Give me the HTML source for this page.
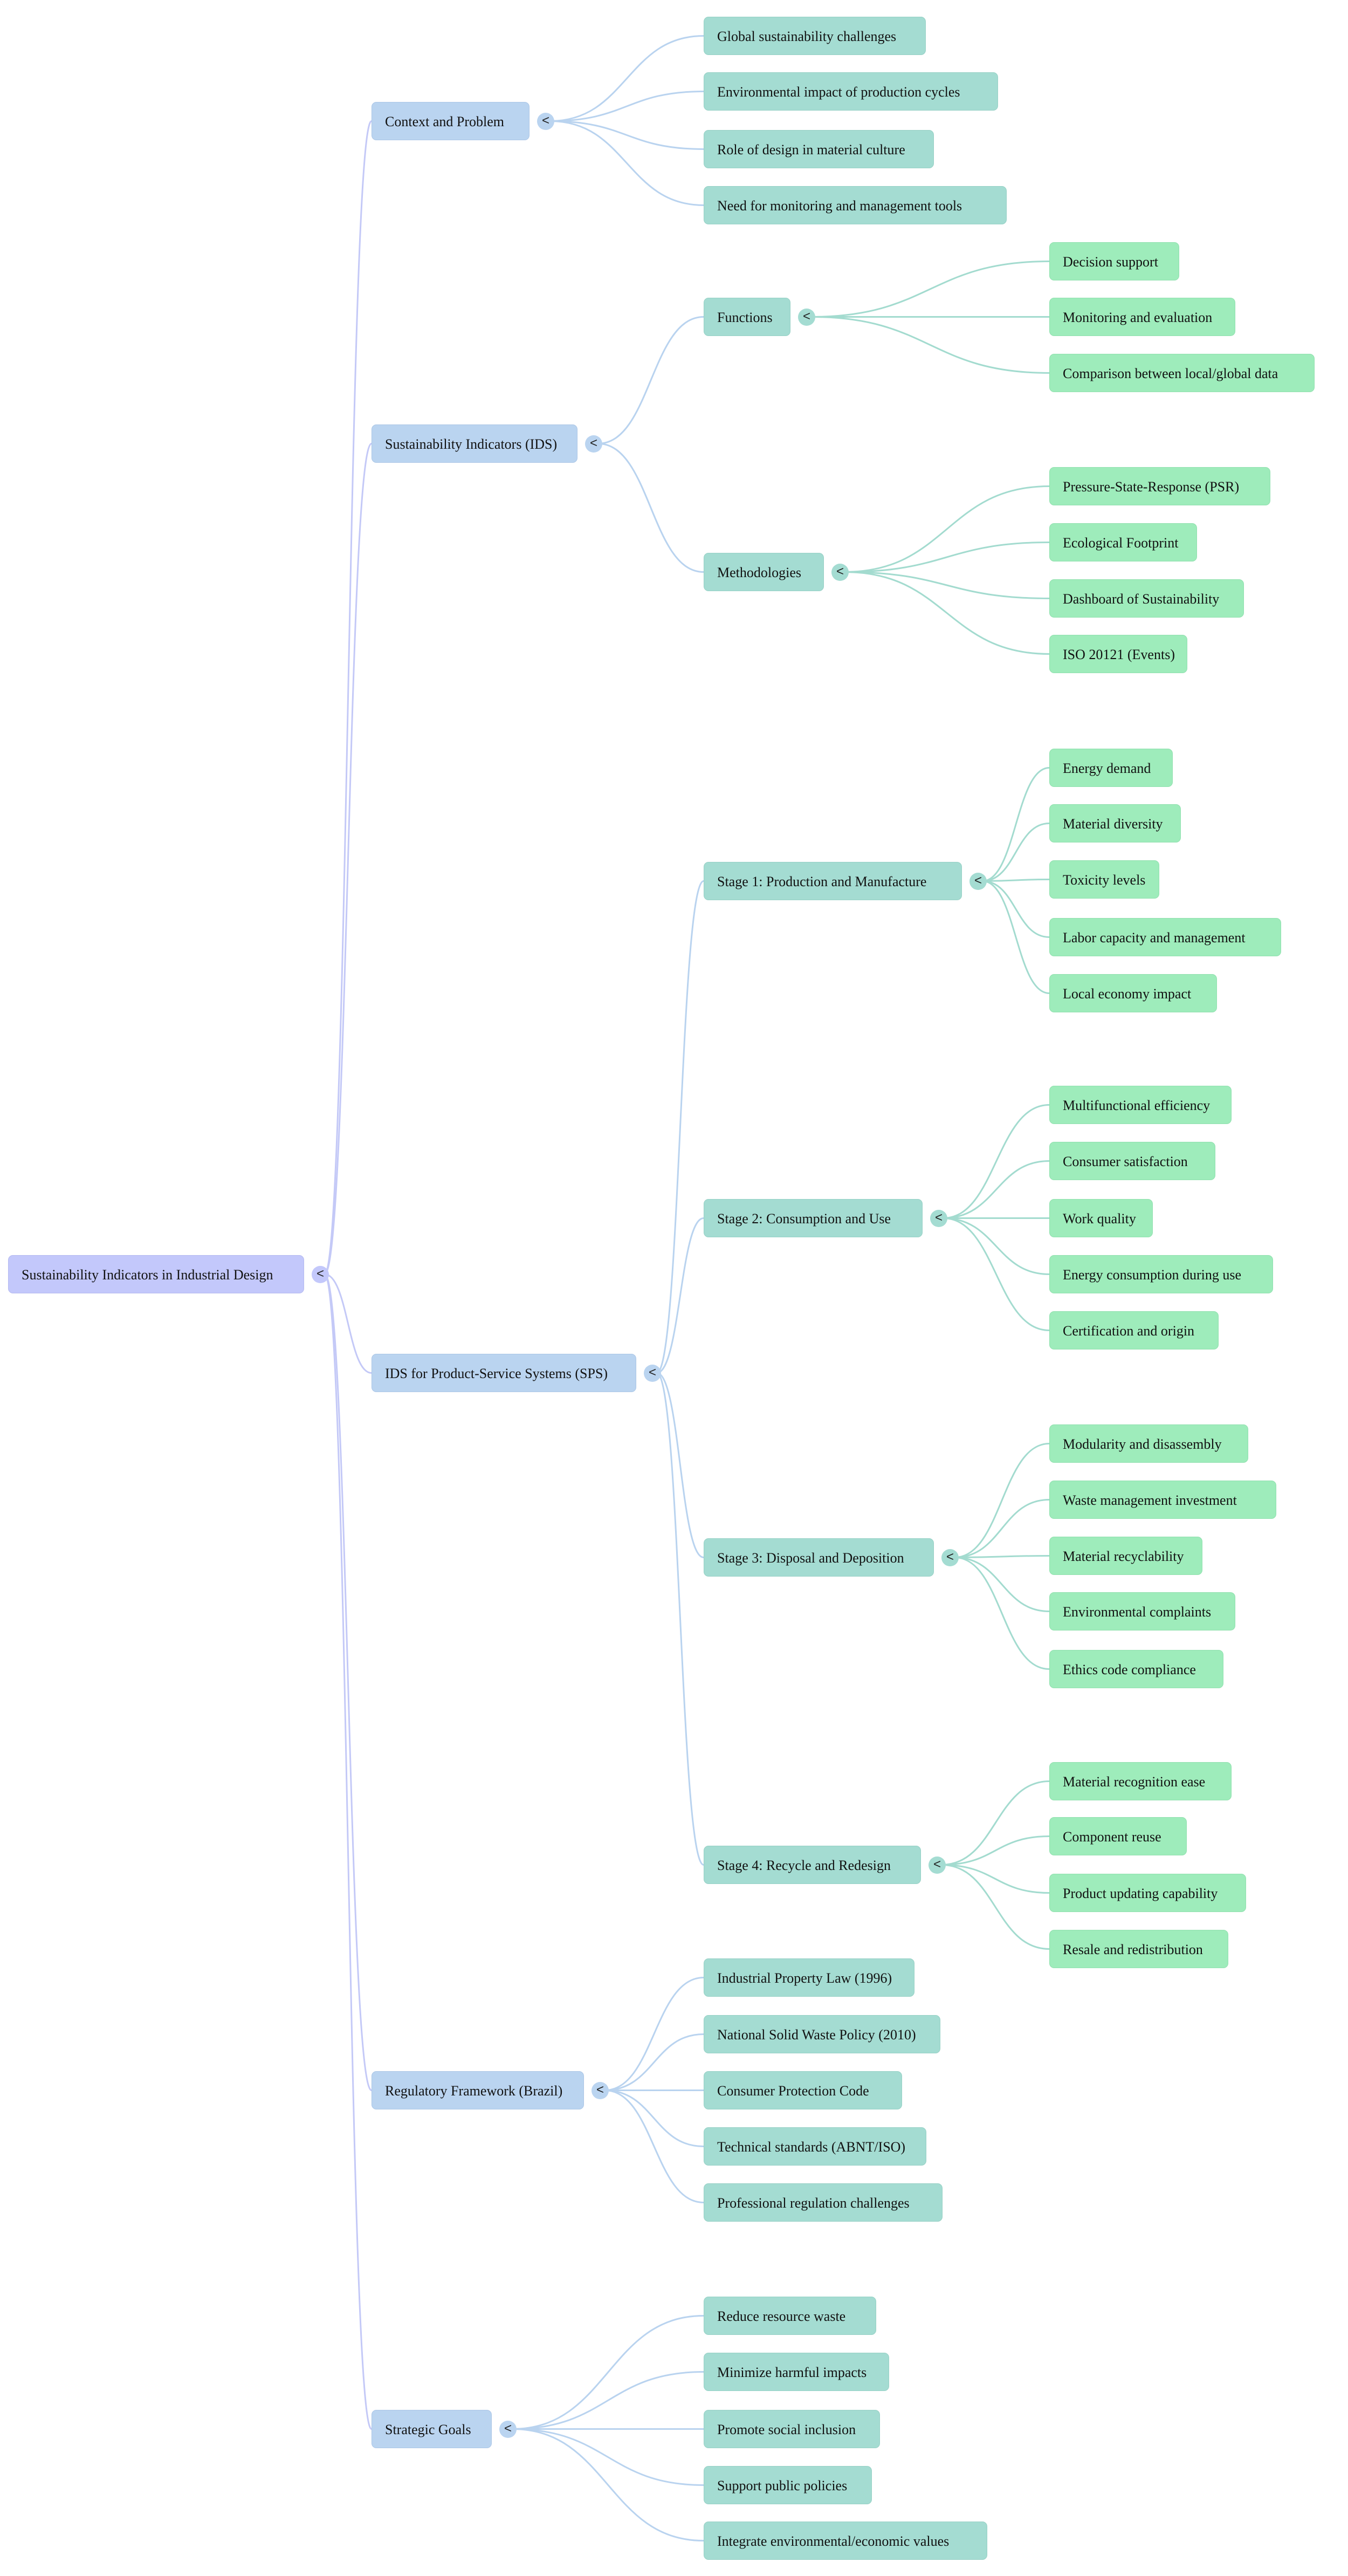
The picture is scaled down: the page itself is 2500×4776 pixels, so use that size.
<!DOCTYPE html>
<html><head><meta charset="utf-8">
<style>
html,body{margin:0;padding:0;background:#fff;}
body{width:2500px;height:4776px;position:relative;overflow:hidden;font-family:"Liberation Serif",serif;}
.n{position:absolute;height:71px;line-height:71px;box-sizing:border-box;padding-left:24px;font-size:26px;color:#111;border-radius:9px;white-space:nowrap;}
.r{background:#c3c8fb;border:1px solid #b4b9f0;}
.a{background:#bad4f0;border:1px solid #abc6e6;}
.b{background:#a4dcd2;border:1px solid #96d0c5;}
.c{background:#9eecbb;border:1px solid #90e0ae;}
.t{position:absolute;width:32px;height:32px;border-radius:50%;text-align:center;line-height:30px;font-family:"Liberation Sans",sans-serif;font-size:24px;color:#222;}
svg{position:absolute;left:0;top:0;}
</style></head><body>
<svg id="s" width="2500" height="4776"></svg>

<div class="n r" id="root" style="left:15px;top:2327px;width:549px">Sustainability Indicators in Industrial Design</div>

<div class="n a" id="ctx" style="left:689px;top:189px;width:293px">Context and Problem</div>
<div class="n a" id="ids" style="left:689px;top:787px;width:382px">Sustainability Indicators (IDS)</div>
<div class="n a" id="sps" style="left:689px;top:2510px;width:491px">IDS for Product-Service Systems (SPS)</div>
<div class="n a" id="reg" style="left:689px;top:3840px;width:394px">Regulatory Framework (Brazil)</div>
<div class="n a" id="str" style="left:689px;top:4468px;width:223px">Strategic Goals</div>

<div class="n b" id="c1" style="left:1305px;top:31px;width:412px">Global sustainability challenges</div>
<div class="n b" id="c2" style="left:1305px;top:134px;width:546px">Environmental impact of production cycles</div>
<div class="n b" id="c3" style="left:1305px;top:241px;width:427px">Role of design in material culture</div>
<div class="n b" id="c4" style="left:1305px;top:345px;width:562px">Need for monitoring and management tools</div>
<div class="n b" id="fn" style="left:1305px;top:552px;width:161px">Functions</div>
<div class="n b" id="me" style="left:1305px;top:1025px;width:223px">Methodologies</div>
<div class="n b" id="s1" style="left:1305px;top:1598px;width:479px">Stage 1: Production and Manufacture</div>
<div class="n b" id="s2" style="left:1305px;top:2223px;width:406px">Stage 2: Consumption and Use</div>
<div class="n b" id="s3" style="left:1305px;top:2852px;width:427px">Stage 3: Disposal and Deposition</div>
<div class="n b" id="s4" style="left:1305px;top:3422px;width:403px">Stage 4: Recycle and Redesign</div>
<div class="n b" id="r1" style="left:1305px;top:3631px;width:391px">Industrial Property Law (1996)</div>
<div class="n b" id="r2" style="left:1305px;top:3736px;width:439px">National Solid Waste Policy (2010)</div>
<div class="n b" id="r3" style="left:1305px;top:3840px;width:368px">Consumer Protection Code</div>
<div class="n b" id="r4" style="left:1305px;top:3944px;width:413px">Technical standards (ABNT/ISO)</div>
<div class="n b" id="r5" style="left:1305px;top:4048px;width:443px">Professional regulation challenges</div>
<div class="n b" id="g1" style="left:1305px;top:4258px;width:320px">Reduce resource waste</div>
<div class="n b" id="g2" style="left:1305px;top:4362px;width:344px">Minimize harmful impacts</div>
<div class="n b" id="g3" style="left:1305px;top:4468px;width:327px">Promote social inclusion</div>
<div class="n b" id="g4" style="left:1305px;top:4572px;width:312px">Support public policies</div>
<div class="n b" id="g5" style="left:1305px;top:4675px;width:526px">Integrate environmental/economic values</div>

<div class="n c" id="f1" style="left:1946px;top:449px;width:241px">Decision support</div>
<div class="n c" id="f2" style="left:1946px;top:552px;width:345px">Monitoring and evaluation</div>
<div class="n c" id="f3" style="left:1946px;top:656px;width:492px">Comparison between local/global data</div>
<div class="n c" id="m1" style="left:1946px;top:866px;width:410px">Pressure-State-Response (PSR)</div>
<div class="n c" id="m2" style="left:1946px;top:970px;width:274px">Ecological Footprint</div>
<div class="n c" id="m3" style="left:1946px;top:1074px;width:361px">Dashboard of Sustainability</div>
<div class="n c" id="m4" style="left:1946px;top:1177px;width:256px">ISO 20121 (Events)</div>
<div class="n c" id="a1" style="left:1946px;top:1388px;width:229px">Energy demand</div>
<div class="n c" id="a2" style="left:1946px;top:1491px;width:244px">Material diversity</div>
<div class="n c" id="a3" style="left:1946px;top:1595px;width:204px">Toxicity levels</div>
<div class="n c" id="a4" style="left:1946px;top:1702px;width:430px">Labor capacity and management</div>
<div class="n c" id="a5" style="left:1946px;top:1806px;width:311px">Local economy impact</div>
<div class="n c" id="b1" style="left:1946px;top:2013px;width:338px">Multifunctional efficiency</div>
<div class="n c" id="b2" style="left:1946px;top:2117px;width:308px">Consumer satisfaction</div>
<div class="n c" id="b3" style="left:1946px;top:2223px;width:192px">Work quality</div>
<div class="n c" id="b4" style="left:1946px;top:2327px;width:415px">Energy consumption during use</div>
<div class="n c" id="b5" style="left:1946px;top:2431px;width:314px">Certification and origin</div>
<div class="n c" id="d1" style="left:1946px;top:2641px;width:369px">Modularity and disassembly</div>
<div class="n c" id="d2" style="left:1946px;top:2745px;width:421px">Waste management investment</div>
<div class="n c" id="d3" style="left:1946px;top:2849px;width:284px">Material recyclability</div>
<div class="n c" id="d4" style="left:1946px;top:2952px;width:345px">Environmental complaints</div>
<div class="n c" id="d5" style="left:1946px;top:3059px;width:323px">Ethics code compliance</div>
<div class="n c" id="e1" style="left:1946px;top:3267px;width:338px">Material recognition ease</div>
<div class="n c" id="e2" style="left:1946px;top:3369px;width:255px">Component reuse</div>
<div class="n c" id="e3" style="left:1946px;top:3474px;width:365px">Product updating capability</div>
<div class="n c" id="e4" style="left:1946px;top:3578px;width:332px">Resale and redistribution</div>

<script>
var tree={
 root:["ctx","ids","sps","reg","str"],
 ctx:["c1","c2","c3","c4"],
 ids:["fn","me"],
 sps:["s1","s2","s3","s4"],
 reg:["r1","r2","r3","r4","r5"],
 str:["g1","g2","g3","g4","g5"],
 fn:["f1","f2","f3"],
 me:["m1","m2","m3","m4"],
 s1:["a1","a2","a3","a4","a5"],
 s2:["b1","b2","b3","b4","b5"],
 s3:["d1","d2","d3","d4","d5"],
 s4:["e1","e2","e3","e4"]
};
var svg=document.getElementById("s"),NS="http://www.w3.org/2000/svg";
function box(id){var e=document.getElementById(id);return {x:e.offsetLeft,y:e.offsetTop,w:e.offsetWidth,h:e.offsetHeight,cls:e.className};}
for(var p in tree){
 var b=box(p);
 var cx=b.x+b.w+30, cy=b.y+35.5;
 var col=p=="root"?"#c4c9f7":(b.cls.indexOf(" a")>=0?"#b9d3ef":"#a3dbcf");
 var bg=p=="root"?"#c3c8fb":(b.cls.indexOf(" a")>=0?"#bad4f0":"#a4dcd2");
 tree[p].forEach(function(k){
  var c=box(k);var ex=c.x,ey=c.y+35.5;var sx=cx+8;var mx=(sx+ex)/2;
  var path=document.createElementNS(NS,"path");
  path.setAttribute("d","M"+sx+" "+cy+" C"+mx+" "+cy+" "+mx+" "+ey+" "+ex+" "+ey);
  path.setAttribute("fill","none");path.setAttribute("stroke",col);path.setAttribute("stroke-width","3");
  svg.appendChild(path);
 });
 var t=document.createElement("div");t.className="t";
 t.style.left=(cx-16)+"px";t.style.top=(cy-16)+"px";t.style.background=bg;t.textContent="<";
 document.body.appendChild(t);
}
</script>
</body></html>
